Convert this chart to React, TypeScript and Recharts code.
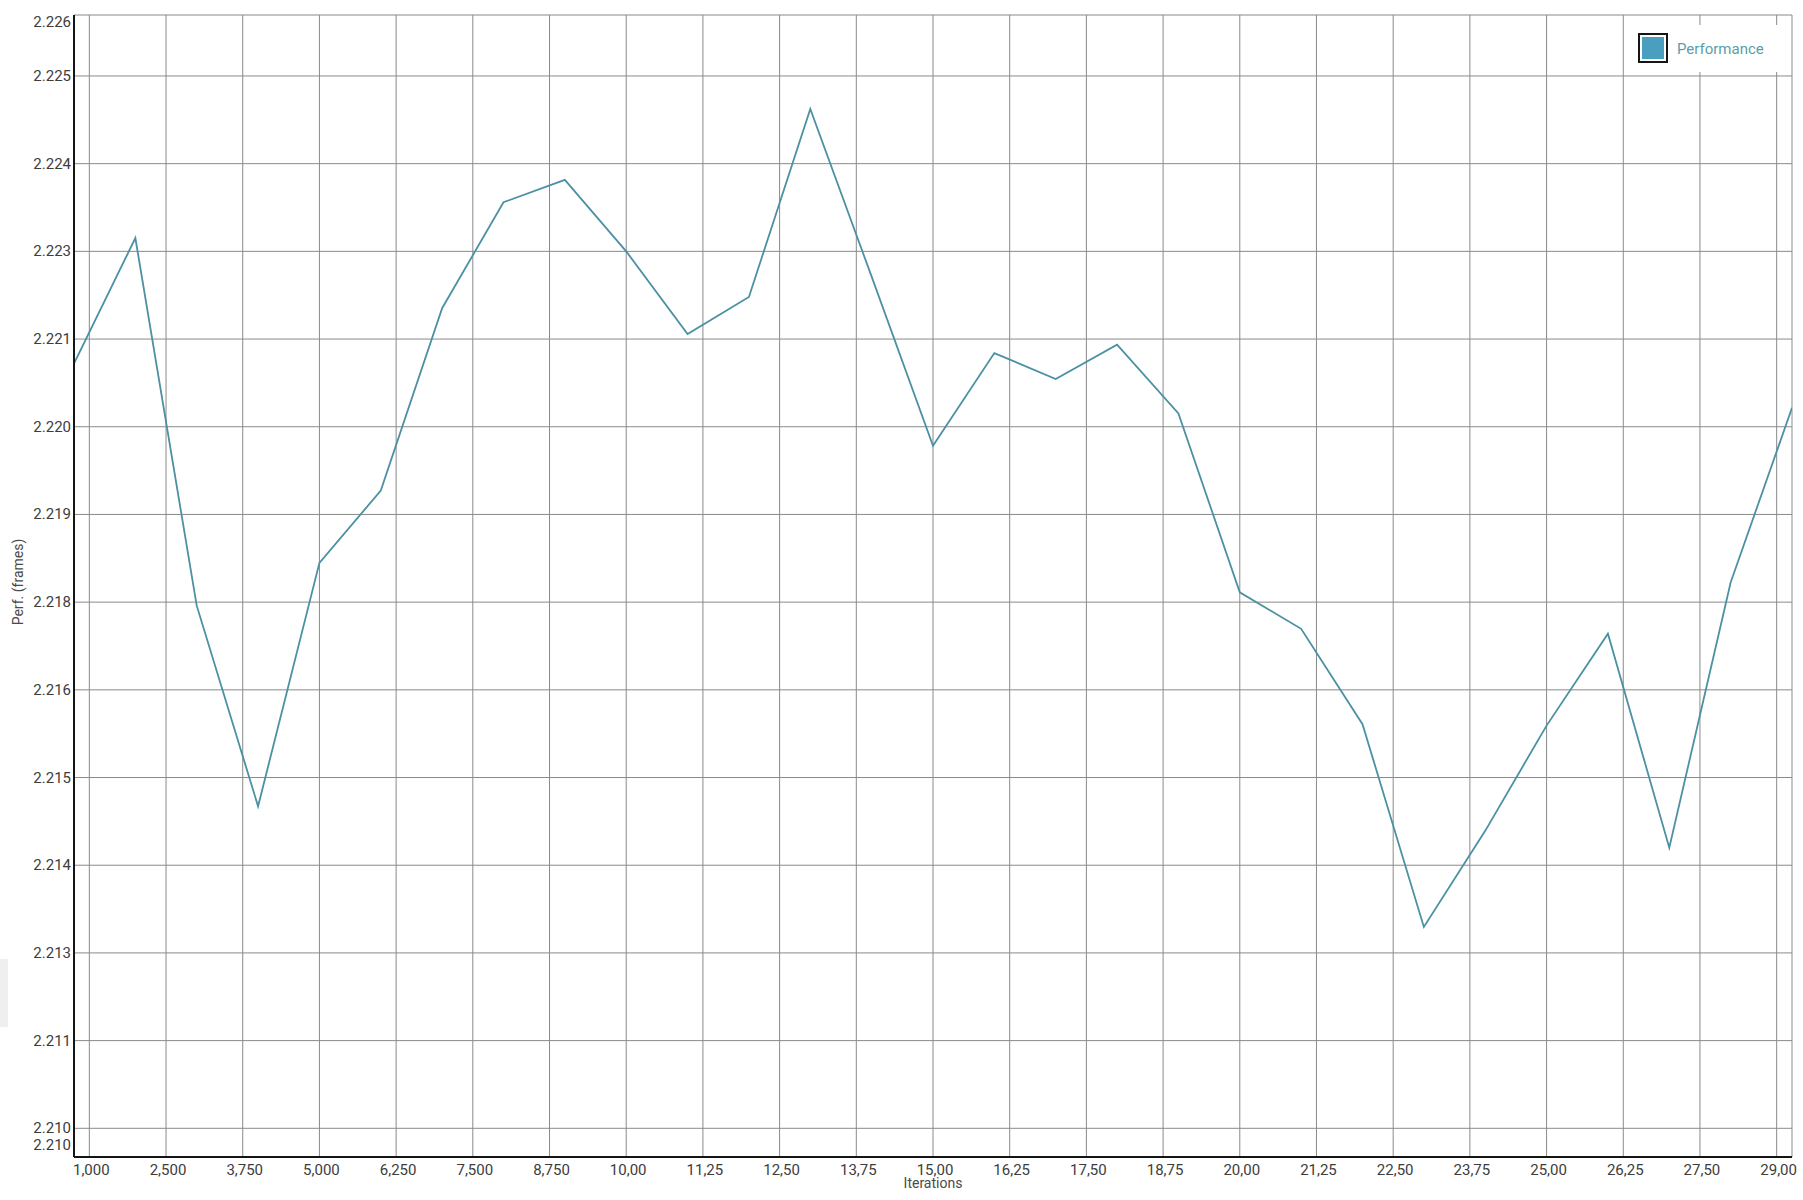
import React from 'react';
import { LineChart, Line, XAxis, YAxis, CartesianGrid, Legend, Label } from 'recharts';

const iterations = [
  1000, 2000, 3000, 4000, 5000, 6000, 7000, 8000, 9000, 10000,
  11000, 12000, 13000, 14000, 15000, 16000, 17000, 18000, 19000, 20000,
  21000, 22000, 23000, 24000, 25000, 26000, 27000, 28000, 29000,
];

const performance = [
  2.2209, 2.22269, 2.21745, 2.21459, 2.21806, 2.21909, 2.22169, 2.2232, 2.22352, 2.2225,
  2.22132, 2.22185, 2.22453, 2.22214, 2.21973, 2.22105, 2.22068, 2.22117, 2.22019, 2.21764,
  2.21712, 2.21576, 2.21287, 2.21424, 2.21574, 2.21705, 2.214, 2.21778, 2.22027,
];

const xTicks = [
  1250, 2500, 3750, 5000, 6250, 7500, 8750, 10000, 11250, 12500, 13750, 15000,
  16250, 17500, 18750, 20000, 21250, 22500, 23750, 25000, 26250, 27500, 28750,
];
const xTickLabels = [
  '1,000', '2,500', '3,750', '5,000', '6,250', '7,500', '8,750', '10,00', '11,25', '12,50', '13,75', '15,00',
  '16,25', '17,50', '18,75', '20,00', '21,25', '22,50', '23,75', '25,00', '26,25', '27,50', '29,00',
];

const yTicks = [
  2.209591, 2.21, 2.21125, 2.2125, 2.21375, 2.215, 2.21625, 2.2175,
  2.21875, 2.22, 2.22125, 2.2225, 2.22375, 2.225, 2.225869,
];
const yTickLabels = [
  '2.210', '2.210', '2.211', '2.213', '2.214', '2.215', '2.216', '2.218',
  '2.219', '2.220', '2.221', '2.223', '2.224', '2.225', '2.226',
];

const xDomain = [1000, 29000];
const yDomain = [2.209591, 2.225869];

const seriesName = 'Performance';
const xTitle = 'Iterations';
const yTitle = 'Perf. (frames)';

const data = iterations.map((it, i) => ({ it, perf: performance[i] }));

const FONT = 'Roboto, "Noto Sans", sans-serif';
const TICK_COLOR = '#3d3d3d';
const LINE_COLOR = '#4b91a3';
const SWATCH_COLOR = '#4a9ec0';
const GRID_COLOR = '#8a8a8a';
const BORDER_COLOR = '#151515';

const XTick = (props: any) => {
  const { x, y, index } = props;
  return (
    <text x={x + 2} y={y + 18} textAnchor="middle" fontSize={15} fontFamily={FONT} fill={TICK_COLOR}>
      {xTickLabels[index]}
    </text>
  );
};

const YTick = (props: any) => {
  const { x, y, index } = props;
  let dy = 5;
  if (index === 0) dy = -7;
  if (index === yTicks.length - 1) dy = 12;
  return (
    <text x={x - 3} y={y + dy} textAnchor="end" fontSize={15} fontFamily={FONT} fill={TICK_COLOR}>
      {yTickLabels[index]}
    </text>
  );
};

const YTitle = (props: any) => {
  const vb = props.viewBox || { x: 0, y: 0, width: 0, height: 0 };
  const cx = 18;
  const cy = vb.y + vb.height / 2 - 4;
  return (
    <text
      x={cx}
      y={cy}
      transform={`rotate(-90, ${cx}, ${cy})`}
      textAnchor="middle"
      dominantBaseline="central"
      fontSize={14}
      fontFamily={FONT}
      fill="#4a4a4a"
    >
      {yTitle}
    </text>
  );
};

const XTitle = (props: any) => {
  const vb = props.viewBox || { x: 0, y: 0, width: 0, height: 0 };
  const cx = vb.x + vb.width / 2;
  return (
    <text x={cx} y={vb.y + 31} textAnchor="middle" fontSize={14} fontFamily={FONT} fill="#4a4a4a">
      {xTitle}
    </text>
  );
};

const LegendContent = () => (
  <div style={{ width: 157, height: 47, background: '#fff', position: 'relative', fontFamily: FONT }}>
    <div
      style={{
        position: 'absolute',
        left: 10,
        top: 8,
        width: 26,
        height: 26,
        border: `2px solid ${BORDER_COLOR}`,
        background: '#fff',
      }}
    >
      <div style={{ position: 'absolute', left: 2, top: 2, width: 22, height: 22, background: SWATCH_COLOR }} />
    </div>
    <span
      style={{
        position: 'absolute',
        left: 49,
        top: 0,
        lineHeight: '48px',
        fontSize: 15,
        color: '#5a9eab',
        whiteSpace: 'nowrap',
      }}
    >
      {seriesName}
    </span>
  </div>
);

export default function App() {
  return (
    <div style={{ position: 'absolute', left: 0, top: 0, width: 1803, height: 1200, background: '#fff', fontFamily: FONT }}>
      <div style={{ position: 'absolute', left: 0, top: 959, width: 8, height: 68, background: '#efefef' }} />
      <LineChart width={1803} height={1200} data={data} margin={{ top: 15, right: 11, bottom: 0, left: 0 }}>
        <CartesianGrid stroke={GRID_COLOR} strokeWidth={1} />
        <XAxis
          dataKey="it"
          type="number"
          domain={xDomain}
          ticks={xTicks}
          interval={0}
          height={43}
          tickSize={0}
          tickMargin={0}
          tickLine={false}
          tick={<XTick />}
          axisLine={{ stroke: BORDER_COLOR, strokeWidth: 2 }}
          allowDataOverflow
        >
          <Label content={<XTitle />} />
        </XAxis>
        <XAxis
          xAxisId="top"
          orientation="top"
          type="number"
          domain={xDomain}
          height={0}
          tick={false}
          tickLine={false}
          axisLine={{ stroke: BORDER_COLOR, strokeWidth: 2 }}
        />
        <YAxis
          type="number"
          domain={yDomain}
          ticks={yTicks}
          interval={0}
          width={74}
          tickSize={0}
          tickMargin={0}
          tickLine={false}
          tick={<YTick />}
          axisLine={{ stroke: BORDER_COLOR, strokeWidth: 2 }}
          allowDataOverflow
        >
          <Label content={<YTitle />} />
        </YAxis>
        <YAxis
          yAxisId="right"
          orientation="right"
          type="number"
          domain={yDomain}
          width={0}
          tick={false}
          tickLine={false}
          axisLine={{ stroke: BORDER_COLOR, strokeWidth: 2 }}
        />
        <Legend
          layout="horizontal"
          verticalAlign="middle"
          align="center"
          content={<LegendContent />}
          wrapperStyle={{ position: 'absolute', left: 1628, top: 25, width: 157, height: 47 }}
        />
        <Line
          type="linear"
          dataKey="perf"
          name={seriesName}
          stroke={LINE_COLOR}
          strokeWidth={1.8}
          dot={false}
          activeDot={false}
          isAnimationActive={false}
        />
      </LineChart>
    </div>
  );
}
